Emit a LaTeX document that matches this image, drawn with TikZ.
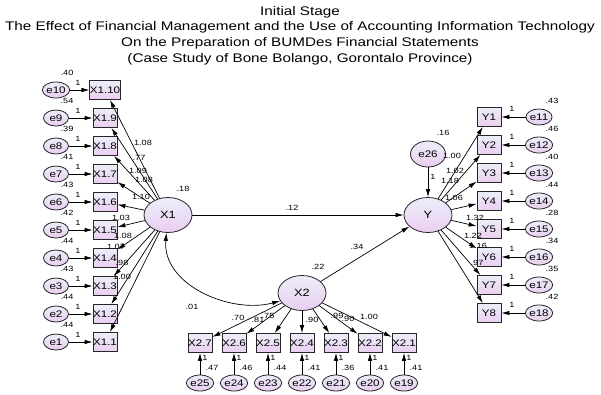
\documentclass[tikz,border=0pt]{standalone}
\usepackage{fontspec}
\setmainfont[FakeStretch=1.22]{Liberation Sans}
\usetikzlibrary{shapes.geometric,arrows.meta}
\definecolor{lavtop}{RGB}{236,238,250}
\definecolor{lavbot}{RGB}{234,206,240}
\tikzstyle{latent}=[ellipse, draw=black!85, line width=0.8pt, top color=lavtop, bottom color=lavbot,
minimum width=48pt, minimum height=35pt, inner sep=0pt, font=\fontsize{10.5}{12}\selectfont]
\tikzstyle{item}=[rectangle, draw=black!85, line width=0.8pt, top color=lavtop, bottom color=lavbot,
minimum width=24pt, minimum height=19pt, inner sep=0pt, font=\fontsize{9.5}{10}\selectfont]
\tikzstyle{err}=[ellipse, draw=black!85, line width=0.8pt, top color=lavtop, bottom color=lavbot,
minimum width=25pt, minimum height=16pt, inner sep=0pt, font=\fontsize{9.5}{10}\selectfont]
\tikzstyle{est}=[inner sep=0pt, font=\fontsize{7.5}{8}\selectfont]
\tikzstyle{arr}=[-{Latex[length=8pt,width=4.5pt]}, line width=0.7pt]

\begin{document}
\begin{tikzpicture}[x=1pt,y=-1pt]
\useasboundingbox (0,0) rectangle (601,394);
\node[align=center, font=\fontsize{12.5}{15.7}\selectfont](title)at (300,35.5){Initial Stage\\
The Effect of Financial Management and the Use of Accounting Information Technology\\
On the Preparation of BUMDes Financial Statements\\
(Case Study of Bone Bolango, Gorontalo Province)};

% latent variables
\node[latent](X1)at (168,215){X1};
\node[latent](Y)at (428,215){Y};
\node[latent](X2)at (302,293){X2};
\node[err, minimum width=35pt, minimum height=26pt](e26)at (428,154){e26};

% X1 indicators
\node[item](x1i10)at (105,90){X1.10};
\node[item](x1i9)at (105,118){X1.9};
\node[item](x1i8)at (105,146){X1.8};
\node[item](x1i7)at (105,174){X1.7};
\node[item](x1i6)at (105,202){X1.6};
\node[item](x1i5)at (105,230){X1.5};
\node[item](x1i4)at (105,258){X1.4};
\node[item](x1i3)at (105,286){X1.3};
\node[item](x1i2)at (105,314){X1.2};
\node[item](x1i1)at (105,342){X1.1};

\node[err](e10)at (56,90){e10};
\node[err](e9)at (56,118){e9};
\node[err](e8)at (56,146){e8};
\node[err](e7)at (56,174){e7};
\node[err](e6)at (56,202){e6};
\node[err](e5)at (56,230){e5};
\node[err](e4)at (56,258){e4};
\node[err](e3)at (56,286){e3};
\node[err](e2)at (56,314){e2};
\node[err](e1)at (56,342){e1};

% Y indicators
\node[item](yi1)at (489,117){Y1};
\node[item](yi2)at (489,145){Y2};
\node[item](yi3)at (489,173){Y3};
\node[item](yi4)at (489,201){Y4};
\node[item](yi5)at (489,229){Y5};
\node[item](yi6)at (489,257){Y6};
\node[item](yi7)at (489,285){Y7};
\node[item](yi8)at (489,313){Y8};

\node[err](e11)at (539,117){e11};
\node[err](e12)at (539,145){e12};
\node[err](e13)at (539,173){e13};
\node[err](e14)at (539,201){e14};
\node[err](e15)at (539,229){e15};
\node[err](e16)at (539,257){e16};
\node[err](e17)at (539,285){e17};
\node[err](e18)at (539,313){e18};

% X2 indicators
\node[item](x2i7)at (200,343){X2.7};
\node[item](x2i6)at (234,343){X2.6};
\node[item](x2i5)at (268,343){X2.5};
\node[item](x2i4)at (302,343){X2.4};
\node[item](x2i3)at (336,343){X2.3};
\node[item](x2i2)at (370,343){X2.2};
\node[item](x2i1)at (404,343){X2.1};

\node[err](e25)at (200,383){e25};
\node[err](e24)at (234,383){e24};
\node[err](e23)at (268,383){e23};
\node[err](e22)at (302,383){e22};
\node[err](e21)at (336,383){e21};
\node[err](e20)at (370,383){e20};
\node[err](e19)at (404,383){e19};

% structural paths
\draw[arr](X1) -- (Y);
\draw[arr](X2) -- (Y);
\draw[arr](e26) -- (Y);
\draw[{Latex[length=8pt,width=4.5pt]}-{Latex[length=8pt,width=4.5pt]}, line width=0.7pt]
 (X1.265) to[out=-95,in=195] (X2.200);

\draw[arr](X1) -- (x1i10);
\draw[arr](X1) -- (x1i9);
\draw[arr](X1) -- (x1i8);
\draw[arr](X1) -- (x1i7);
\draw[arr](X1) -- (x1i6);
\draw[arr](X1) -- (x1i5);
\draw[arr](X1) -- (x1i4);
\draw[arr](X1) -- (x1i3);
\draw[arr](X1) -- (x1i2);
\draw[arr](X1) -- (x1i1);

\draw[arr](e10) -- (x1i10);
\draw[arr](e9) -- (x1i9);
\draw[arr](e8) -- (x1i8);
\draw[arr](e7) -- (x1i7);
\draw[arr](e6) -- (x1i6);
\draw[arr](e5) -- (x1i5);
\draw[arr](e4) -- (x1i4);
\draw[arr](e3) -- (x1i3);
\draw[arr](e2) -- (x1i2);
\draw[arr](e1) -- (x1i1);

\draw[arr](Y) -- (yi1);
\draw[arr](Y) -- (yi2);
\draw[arr](Y) -- (yi3);
\draw[arr](Y) -- (yi4);
\draw[arr](Y) -- (yi5);
\draw[arr](Y) -- (yi6);
\draw[arr](Y) -- (yi7);
\draw[arr](Y) -- (yi8);

\draw[arr](e11) -- (yi1);
\draw[arr](e12) -- (yi2);
\draw[arr](e13) -- (yi3);
\draw[arr](e14) -- (yi4);
\draw[arr](e15) -- (yi5);
\draw[arr](e16) -- (yi6);
\draw[arr](e17) -- (yi7);
\draw[arr](e18) -- (yi8);

\draw[arr](X2) -- (x2i7);
\draw[arr](X2) -- (x2i6);
\draw[arr](X2) -- (x2i5);
\draw[arr](X2) -- (x2i4);
\draw[arr](X2) -- (x2i3);
\draw[arr](X2) -- (x2i2);
\draw[arr](X2) -- (x2i1);

\draw[arr](e25) -- (x2i7);
\draw[arr](e24) -- (x2i6);
\draw[arr](e23) -- (x2i5);
\draw[arr](e22) -- (x2i4);
\draw[arr](e21) -- (x2i3);
\draw[arr](e20) -- (x2i2);
\draw[arr](e19) -- (x2i1);

% estimates
\node[est](b1)at (292,208){.12};
\node[est](b2)at (357,247){.34};
\node[est](b3)at (192,307){.01};
\node[est](v1)at (183,189){.18};
\node[est](v2)at (443,133){.16};
\node[est](v3)at (318,267){.22};
\node[est](w26)at (433,177){1};

\node[est](l10)at (143,143){1.08};
\node[est](l9)at (139,158){.77};
\node[est](l8)at (138,171){1.09};
\node[est](l7)at (144,180){1.08};
\node[est](l6)at (141,197){1.10};
\node[est](l5)at (121,218){1.03};
\node[est](l4)at (123,236){1.08};
\node[est](l3)at (116,247){1.07};
\node[est](l2)at (122,263){.98};
\node[est](l1)at (122,277){1.00};

\node[est](v10)at (67,73){.40};
\node[est](v9)at (67,101){.54};
\node[est](v8)at (67,129){.39};
\node[est](v7)at (67,157){.41};
\node[est](v6)at (67,185){.43};
\node[est](v5)at (67,213){.42};
\node[est](v4)at (67,241){.44};
\node[est](v3a)at (67,269){.43};
\node[est](v2a)at (67,297){.44};
\node[est](v1a)at (67,325){.44};

\node[est](w10)at (78,83){1};
\node[est](w9)at (78,111){1};
\node[est](w8)at (78,139){1};
\node[est](w7)at (78,167){1};
\node[est](w6)at (78,195){1};
\node[est](w5)at (78,223){1};
\node[est](w4)at (78,251){1};
\node[est](w3)at (78,279){1};
\node[est](w2)at (78,307){1};
\node[est](w1)at (78,335){1};

\node[est](m1)at (452,156){1.00};
\node[est](m2)at (455,171){1.02};
\node[est](m3)at (450,181){1.18};
\node[est](m4)at (454,198){1.06};
\node[est](m5)at (475,218){1.32};
\node[est](m6)at (473,236){1.22};
\node[est](m7)at (478,246){1.16};
\node[est](m8)at (477,263){.97};

\node[est](v11)at (552,101){.43};
\node[est](v12)at (552,129){.46};
\node[est](v13)at (552,157){.40};
\node[est](v14)at (552,185){.44};
\node[est](v15)at (552,213){.28};
\node[est](v16)at (552,241){.34};
\node[est](v17)at (552,269){.35};
\node[est](v18)at (552,297){.42};

\node[est](w11)at (512,109){1};
\node[est](w12)at (512,137){1};
\node[est](w13)at (512,165){1};
\node[est](w14)at (512,193){1};
\node[est](w15)at (512,221){1};
\node[est](w16)at (512,249){1};
\node[est](w17)at (512,277){1};
\node[est](w18)at (512,305){1};

\node[est](n7)at (238,318){.70};
\node[est](n6)at (258,320){.81};
\node[est](n5)at (268,316){.75};
\node[est](n4)at (312,320){.90};
\node[est](n3)at (337,316){.99};
\node[est](n2)at (348,319){.90};
\node[est](n1)at (369,317){1.00};

\node[est](v25)at (212,368){.47};
\node[est](v24)at (246,368){.46};
\node[est](v23)at (280,368){.44};
\node[est](v22)at (314,368){.41};
\node[est](v21)at (348,368){.36};
\node[est](v20)at (382,368){.41};
\node[est](v19)at (416,368){.41};

\node[est](w25)at (205,358){1};
\node[est](w24)at (239,358){1};
\node[est](w23)at (273,358){1};
\node[est](w22)at (307,358){1};
\node[est](w21)at (341,358){1};
\node[est](w20)at (375,358){1};
\node[est](w19)at (409,358){1};
\end{tikzpicture}
\end{document}
